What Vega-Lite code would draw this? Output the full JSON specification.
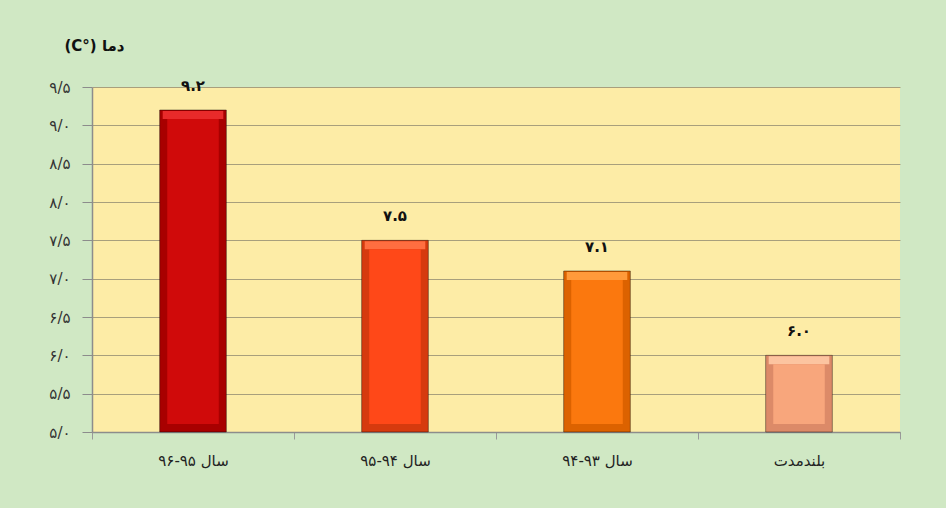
{
  "$schema": "https://vega.github.io/schema/vega-lite/v6.json",
  "width": 808,
  "height": 345,
  "autosize": "none",
  "padding": {"left": 92, "top": 87, "right": 46, "bottom": 76},
  "background": "#d0e8c4",
  "config": {
    "view": {"fill": "#fdeca6", "stroke": null},
    "font": "DejaVu Sans"
  },
  "data": {
    "values": [
      {"cat": "سال ۹۵‐۹۶", "value": 9.2, "label": "۹.۲"},
      {"cat": "سال ۹۴‐۹۵", "value": 7.5, "label": "۷.۵"},
      {"cat": "سال ۹۳‐۹۴", "value": 7.1, "label": "۷.۱"},
      {"cat": "بلندمدت", "value": 6.0, "label": "۶.۰"}
    ]
  },
  "encoding": {
    "x": {
      "field": "cat", "type": "nominal", "sort": null,
      "scale": {"paddingInner": 0, "paddingOuter": 0},
      "axis": {
        "title": null, "labelAngle": 0, "labelFontSize": 15, "labelColor": "#222",
        "labelPadding": 14, "tickBand": "extent", "tickSize": 7, "tickColor": "#999",
        "domainColor": "#8c8c8c", "domainWidth": 1.5
      }
    },
    "y": {
      "field": "value", "type": "quantitative",
      "scale": {"domain": [5, 9.5], "nice": false, "zero": false},
      "axis": {
        "values": [5, 5.5, 6, 6.5, 7, 7.5, 8, 8.5, 9, 9.5],
        "labelOverlap": false,
        "labelExpr": "['۰','۱','۲','۳','۴','۵','۶','۷','۸','۹'][floor(datum.value + 0.001)] + '/' + (datum.value % 1 > 0.25 ? '۵' : '۰')",
        "labelFontSize": 15, "labelColor": "#333", "labelPadding": 12,
        "tickSize": 10, "tickColor": "#8c8c8c", "domainColor": "#8c8c8c", "domainWidth": 1.5,
        "gridColor": "#a89f7c", "gridWidth": 1.2,
        "title": "(C°) دما", "titleAngle": 0, "titleAlign": "left", "titleBaseline": "middle",
        "titleX": -28, "titleY": -42, "titleFontSize": 15, "titleFontWeight": "bold", "titleColor": "#111"
      }
    }
  },
  "layer": [
    {
      "mark": {"type": "bar", "width": {"band": 0.33}, "stroke": "#00000066", "strokeWidth": 1},
      "encoding": {
        "y2": {"datum": 5},
        "color": {
          "field": "cat", "type": "nominal", "sort": null, "legend": null,
          "scale": {"range": ["#a80000", "#d63a0e", "#dc6200", "#dc8a68"]}
        }
      }
    },
    {
      "mark": {"type": "bar", "width": {"band": 0.3}, "yOffset": 1, "y2Offset": 9},
      "encoding": {
        "y2": {"field": "value"},
        "color": {
          "field": "cat", "type": "nominal", "sort": null, "legend": null,
          "scale": {"range": ["#e82a2a", "#ff6e40", "#ff9a3a", "#fcc4a0"]}
        }
      }
    },
    {
      "mark": {"type": "bar", "width": {"band": 0.255}, "yOffset": 9, "y2Offset": -8},
      "encoding": {
        "y2": {"datum": 5},
        "color": {
          "field": "cat", "type": "nominal", "sort": null, "legend": null,
          "scale": {"range": ["#d00a0a", "#ff4818", "#fb780e", "#f8a67c"]}
        }
      }
    },
    {
      "mark": {"type": "text", "baseline": "bottom", "dy": -16, "fontSize": 15, "fontWeight": "bold", "color": "#111"},
      "encoding": {
        "text": {"field": "label"}
      }
    }
  ],
  "resolve": {"scale": {"color": "independent"}}
}
